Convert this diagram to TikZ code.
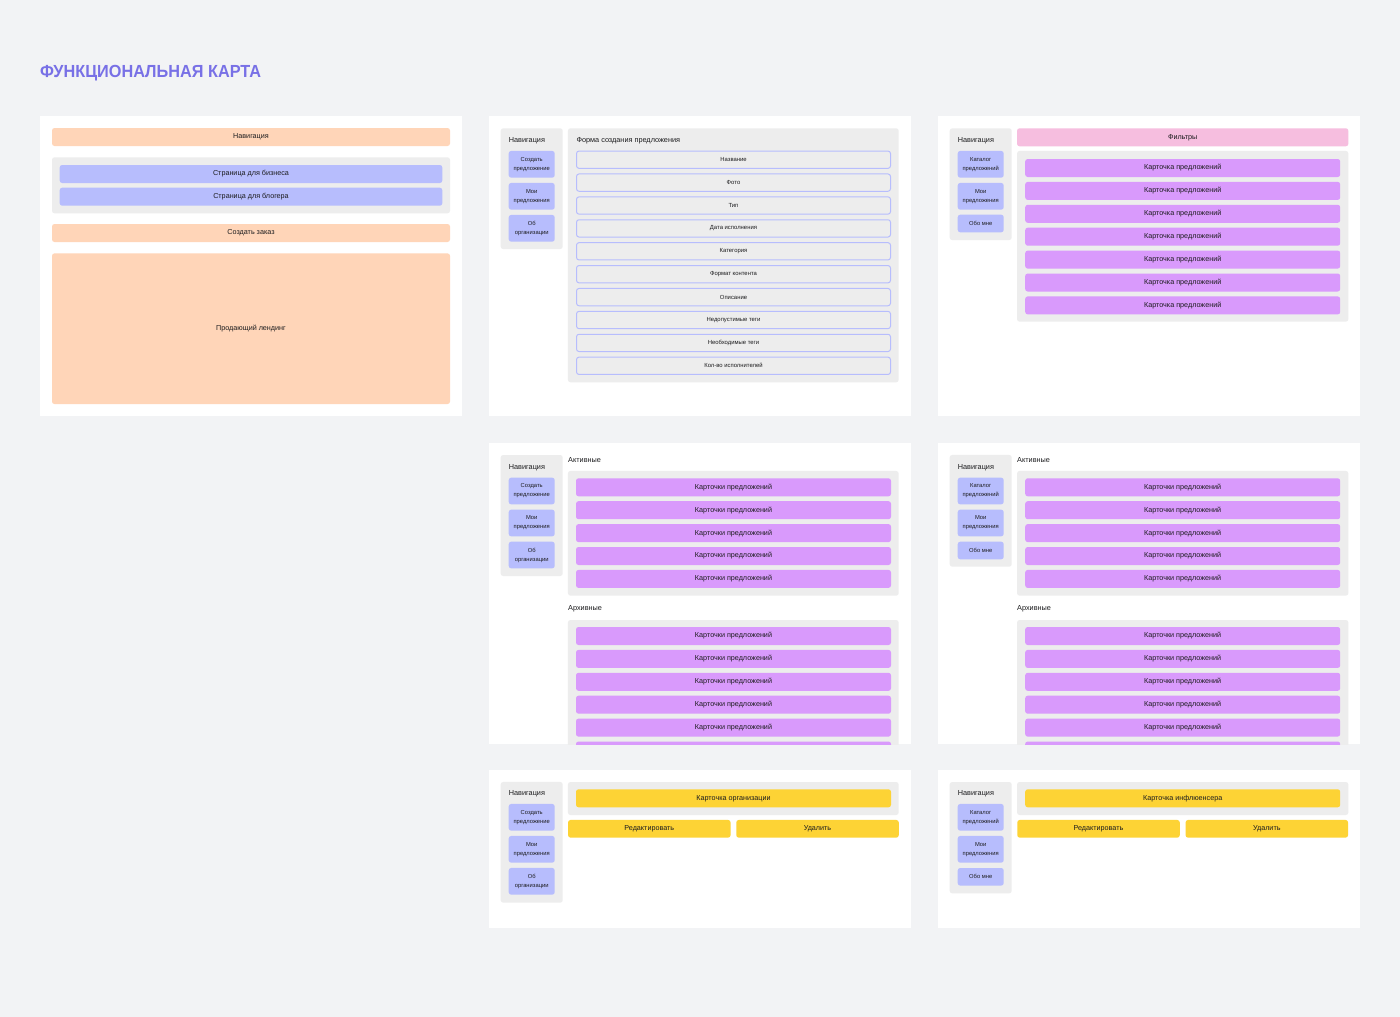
\documentclass[tikz,border=0pt]{standalone}
\usepackage{fontspec}
\setmainfont{Liberation Sans}
\newfontfamily\headfont{Liberation Sans}[FakeStretch=0.93]
\usetikzlibrary{positioning}

\definecolor{canvas}{HTML}{F2F3F5}
\definecolor{groupgray}{HTML}{EDEDED}
\definecolor{lav}{HTML}{B7BDFD}
\definecolor{peach}{HTML}{FFD5B8}
\definecolor{orchid}{HTML}{D99AFC}
\definecolor{rose}{HTML}{F6BEDF}
\definecolor{sun}{HTML}{FDD335}
\definecolor{ink}{HTML}{1C1C1E}
\definecolor{heading}{HTML}{7870E6}

\begin{document}
\begin{tikzpicture}[x=1pt, y=-1pt, text=ink, font=\fontsize{7.2}{8.6}\selectfont,
  box/.style={rounded corners=2.5pt, inner sep=0pt, outer sep=0pt, align=center},
  panel/.style={fill=white, inner sep=0pt, outer sep=0pt, minimum width=422pt},
  group/.style={box, fill=groupgray},
  navgroup/.style={group, minimum width=62pt},
  navbtn/.style={box, fill=lav, minimum width=46pt, minimum height=26.7pt, font=\fontsize{5.8}{9}\selectfont},
  navlbl/.style={anchor=west, inner sep=0pt, font=\fontsize{7.3}{8}\selectfont},
  field/.style={box, fill=groupgray, draw=lav, line width=1pt, minimum width=314pt, minimum height=17.3pt, font=\fontsize{5.9}{7}\selectfont},
  card/.style={box, fill=orchid, minimum width=315pt, minimum height=18pt},
  bar/.style={box, minimum width=398pt, minimum height=18pt},
  btn/.style={box, fill=sun, minimum width=162.5pt, minimum height=17.7pt}]

\fill[canvas] (0,0) rectangle (1400,1017);
\useasboundingbox (0,0) rectangle (1400,1017);

\node[anchor=base west, inner sep=0pt, text=heading, font=\headfont\bfseries\fontsize{17.5}{20}\selectfont] (title) at (40,77) {ФУНКЦИОНАЛЬНАЯ КАРТА};

% landing
\node[panel, minimum height=300pt] (pa) at (251,266) {};
\node[bar, fill=peach] (a-nav) at (251,137) {Навигация};
\node[group, minimum width=398pt, minimum height=56pt] (a-pages) at (251,185.3) {};
\node[bar, fill=lav, minimum width=382.6pt] (a-biz) at (251,174) {Страница для бизнеса};
\node[bar, fill=lav, minimum width=382.6pt] (a-blog) at (251,196.7) {Страница для блогера};
\node[bar, fill=peach] (a-order) at (251,233) {Создать заказ};
\node[bar, fill=peach, minimum height=150.7pt] (a-land) at (251,328.7) {Продающий лендинг};

% offer form
\node[panel, minimum height=300pt] (pb) at (700,266) {};
\node[navgroup, minimum height=120.7pt] (b-nav) at (531.7,188.7) {};
\node[navlbl] (b-navlbl) at (508.7,140.3) {Навигация};
\node[navbtn] (b-n1) at (531.7,164.3) {Создать\\предложение};
\node[navbtn] (b-n2) at (531.7,196.3) {Мои\\предложения};
\node[navbtn] (b-n3) at (531.7,228.3) {Об\\организации};
\node[group, minimum width=330.7pt, minimum height=254pt] (b-form) at (733.3,255.3) {};
\node[navlbl] (b-formlbl) at (576.3,140.3) {Форма создания предложения};
\foreach \fld [count=\i from 0] in {Название, Фото, Тип, Дата исполнения, Категория, Формат контента, Описание, Недопустимые теги, Необходимые теги, Кол-во исполнителей}
  \node[field] (b-f\i) at (733.5,159.7+22.9*\i) {\fld};

% catalog
\node[panel, minimum height=300pt] (pc) at (1149,266) {};
\node[navgroup, minimum height=111.7pt] (c-nav) at (980.7,184.2) {};
\node[navlbl] (c-navlbl) at (957.7,140.3) {Навигация};
\node[navbtn] (c-n1) at (980.7,164.3) {Каталог\\предложений};
\node[navbtn] (c-n2) at (980.7,196.3) {Мои\\предложения};
\node[navbtn, minimum height=17.6pt] (c-n3) at (980.7,223.5) {Обо мне};
\node[box, fill=rose, minimum width=331.3pt, minimum height=18pt] (c-filt) at (1182.7,137.3) {Фильтры};
\node[group, minimum width=331.3pt, minimum height=170.7pt] (c-list) at (1182.7,236.3) {};
\foreach \i in {1,...,7}
  \node[card] (c-k\i) at (1182.7,145.1+22.9*\i) {Карточка предложений};

% my offers (organisation)
\node[panel, minimum height=300.7pt] (pd) at (700,593.65) {};
\begin{scope}
\clip (pd.north west) rectangle (pd.south east);
\node[navgroup, minimum height=121pt] (d-nav) at (531.7,515.5) {};
\node[navlbl] (d-navlbl) at (508.7,467.3) {Навигация};
\node[navbtn] (d-n1) at (531.7,491) {Создать\\предложение};
\node[navbtn] (d-n2) at (531.7,523) {Мои\\предложения};
\node[navbtn] (d-n3) at (531.7,555) {Об\\организации};
\node[navlbl] (d-actlbl) at (568,460.3) {Активные};
\node[group, minimum width=330.7pt, minimum height=124.7pt] (d-act) at (733.3,533.3) {};
\foreach \i in {1,...,5}
  \node[card] (d-a\i) at (733.5,464.4+22.9*\i) {Карточки предложений};
\node[navlbl] (d-arclbl) at (568,609) {Архивные};
\node[group, minimum width=330.7pt, minimum height=150pt] (d-arc) at (733.3,695) {};
\foreach \i in {1,...,6}
  \node[card] (d-r\i) at (733.5,613.1+22.9*\i) {Карточки предложений};
\end{scope}

% my offers (blogger)
\node[panel, minimum height=300.7pt] (pe) at (1149,593.65) {};
\begin{scope}
\clip (pe.north west) rectangle (pe.south east);
\node[navgroup, minimum height=111.7pt] (e-nav) at (980.7,510.8) {};
\node[navlbl] (e-navlbl) at (957.7,467.3) {Навигация};
\node[navbtn] (e-n1) at (980.7,491) {Каталог\\предложений};
\node[navbtn] (e-n2) at (980.7,523) {Мои\\предложения};
\node[navbtn, minimum height=17.6pt] (e-n3) at (980.7,550.5) {Обо мне};
\node[navlbl] (e-actlbl) at (1017,460.3) {Активные};
\node[group, minimum width=331.3pt, minimum height=124.7pt] (e-act) at (1182.7,533.3) {};
\foreach \i in {1,...,5}
  \node[card] (e-a\i) at (1182.7,464.4+22.9*\i) {Карточки предложений};
\node[navlbl] (e-arclbl) at (1017,609) {Архивные};
\node[group, minimum width=331.3pt, minimum height=150pt] (e-arc) at (1182.7,695) {};
\foreach \i in {1,...,6}
  \node[card] (e-r\i) at (1182.7,613.1+22.9*\i) {Карточки предложений};
\end{scope}

% organisation card
\node[panel, minimum height=158.3pt] (pf) at (700,849.2) {};
\node[navgroup, minimum height=120.7pt] (f-nav) at (531.7,842.3) {};
\node[navlbl] (f-navlbl) at (508.7,794) {Навигация};
\node[navbtn] (f-n1) at (531.7,817.3) {Создать\\предложение};
\node[navbtn] (f-n2) at (531.7,849.3) {Мои\\предложения};
\node[navbtn] (f-n3) at (531.7,881.3) {Об\\организации};
\node[group, minimum width=330.7pt, minimum height=33pt] (f-org) at (733.3,798.5) {};
\node[card, fill=sun] (f-card) at (733.5,798.3) {Карточка организации};
\node[btn] (f-edit) at (649.3,828.8) {Редактировать};
\node[btn] (f-del) at (817.5,828.8) {Удалить};

% influencer card
\node[panel, minimum height=158.3pt] (pg) at (1149,849.2) {};
\node[navgroup, minimum height=111.3pt] (g-nav) at (980.7,837.7) {};
\node[navlbl] (g-navlbl) at (957.7,794) {Навигация};
\node[navbtn] (g-n1) at (980.7,817.3) {Каталог\\предложений};
\node[navbtn] (g-n2) at (980.7,849.3) {Мои\\предложения};
\node[navbtn, minimum height=17.6pt] (g-n3) at (980.7,876.8) {Обо мне};
\node[group, minimum width=331.3pt, minimum height=33pt] (g-inf) at (1182.7,798.5) {};
\node[card, fill=sun] (g-card) at (1182.7,798.3) {Карточка инфлюенсера};
\node[btn] (g-edit) at (1098.5,828.8) {Редактировать};
\node[btn] (g-del) at (1266.8,828.8) {Удалить};
\end{tikzpicture}
\end{document}
